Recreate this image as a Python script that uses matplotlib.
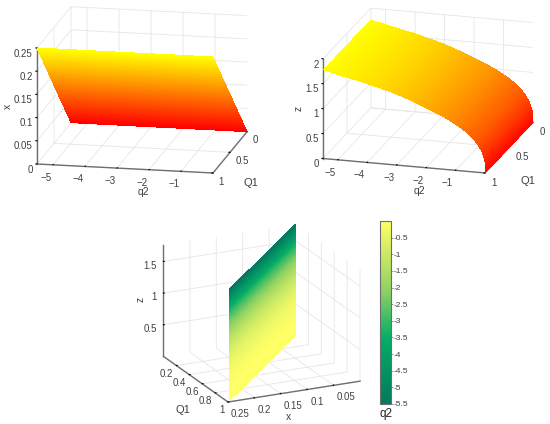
#!/usr/bin/python
# -*- coding: utf-8 -*-
import numpy as np
import matplotlib
matplotlib.use('Agg')
import matplotlib.pyplot as plt
from matplotlib.colors import LinearSegmentedColormap, Normalize
from matplotlib.cm import ScalarMappable
from mpl_toolkits.mplot3d import proj3d

plt.rcParams['font.family'] = ['Liberation Sans', 'DejaVu Sans']
plt.rcParams['font.size'] = 7

# values
q2_read = [-5.5, -5, -4, -3, -2, -1, -0.5, -0.25, -0.1, -0.02, 0]
z_read = [1.76, 1.69, 1.56, 1.40, 1.18, 0.90, 0.69, 0.52, 0.36, 0.19, 0]
Q1_read = [0, 1]
x_read = [0, 0.25]

q2_ticks = [-5, -4, -3, -2, -1]
Q1_ticks_top = [0, 0.5, 1]
Q1_ticks_bottom = [0.2, 0.4, 0.6, 0.8, 1]
x_ticks_left = [0, 0.05, 0.1, 0.15, 0.2, 0.25]
x_ticks_bottom = [0.05, 0.1, 0.15, 0.2, 0.25]
z_ticks_top = [0, 0.5, 1, 1.5, 2]
z_ticks_bottom = [0.5, 1, 1.5]
cbar_ticks = [-0.5, -1, -1.5, -2, -2.5, -3, -3.5, -4, -4.5, -5, -5.5]

bar_colors = [(0.0, '#04795f'), (0.36, '#05ad66'), (0.62, '#8fd163'), (1.0, '#ffff66')]

W, H = 550, 424
text_col = '#404040'
axis_col = '#6e6e6e'
grid_col = '#e6e6e6'

# finer mesh only for smooth shading (as matlab "shading interp")
q2_fine = np.unique(np.concatenate([np.linspace(-5.5, 0, 160), -np.geomspace(0.002, 0.5, 60)]))
z_fine = np.interp((-q2_fine) ** 0.4, ((-np.array(q2_read)) ** 0.4)[::-1], z_read[::-1])
Q1_fine = np.linspace(Q1_read[0], Q1_read[1], 120)

fig = plt.figure(figsize=(W / 100, H / 100), dpi=100)


def style(ax, pads, aligns):
    ax.patch.set_alpha(0)
    for a, pad, ha in zip((ax.xaxis, ax.yaxis, ax.zaxis), pads, aligns):
        a.set_pane_color((1, 1, 1, 0))
        a.pane.set_edgecolor(grid_col)
        a.line.set_color(axis_col)
        a.line.set_linewidth(1.0)
        a._axinfo['grid']['color'] = grid_col
        a._axinfo['grid']['linewidth'] = 0.6
        a._axinfo['tick']['color'] = axis_col
        a._axinfo['tick']['inward_factor'] = 0.0
        a._axinfo['tick']['outward_factor'] = 0.08
        a.set_tick_params(labelcolor=text_col, labelsize=7, pad=pad)
        for t in a.get_ticklabels():
            t.set_ha(ha)


def fit(ax, a3, a_px, b3, b_px):
    # moves/scales the axes so that two box corners land on given pixels
    for i in range(3):
        fig.canvas.draw()
        M = ax.get_proj()
        p = []
        for c in (a3, b3):
            u, v, _ = proj3d.proj_transform(c[0], c[1], c[2], M)
            p.append(ax.transData.transform((u, v)))
        scale = np.hypot(*(np.array(b_px) - np.array(a_px))) / np.hypot(*(p[1] - p[0]))
        pos = ax.get_position()
        w = pos.width * scale
        h = pos.height * scale
        cx = (pos.x0 + pos.width / 2) * W
        cy = (pos.y0 + pos.height / 2) * H
        ax_x = cx + (p[0][0] - cx) * scale
        ax_y = cy + (p[0][1] - cy) * scale
        dx = a_px[0] - ax_x
        dy = (H - a_px[1]) - ax_y
        ax.set_position([pos.x0 + pos.width / 2 - w / 2 + dx / W,
                         pos.y0 + pos.height / 2 - h / 2 + dy / H, w, h])


def label(px, py, s, rot=0, size=7.5):
    fig.text(px / W, 1 - py / H, s, color=text_col, fontsize=size, rotation=rot,
             ha='center', va='center')


# top left: x over q2, Q1
ax1 = fig.add_axes([0.03, 0.5, 0.45, 0.5], projection='3d', proj_type='ortho')
Q, P = np.meshgrid(q2_fine[::2], Q1_fine)
X1 = np.interp(P, Q1_read, x_read)
ax1.plot_surface(Q, P, X1, facecolors=plt.cm.autumn(X1 / 0.25), rstride=1, cstride=1,
                 linewidth=0, antialiased=False, shade=False)
ax1.set_xlim(-5.5, 0, view_margin=0)
ax1.set_ylim(1, 0, view_margin=0)
ax1.set_zlim(0, 0.25, view_margin=0)
ax1.view_init(elev=14.4, azim=-78.4)
ax1.set_box_aspect((180, 170, 120))
ax1.set_xticks(q2_ticks)
ax1.set_yticks(Q1_ticks_top)
ax1.set_yticklabels(['0', '0.5', '1'])
ax1.set_zticks(x_ticks_left)
ax1.set_zticklabels(['0', '0.05', '0.1', '0.15', '0.2', '0.25'])
ax1.zaxis.set_ticks_position('upper')
style(ax1, (-3, -5, -6), ('right', 'left', 'right'))
fit(ax1, (-5.5, 1, 0), (37, 164), (0, 1, 0), (213, 173))
label(143, 192, 'q2')
label(251, 183, 'Q1', size=8)
label(8, 106, 'x', rot=90)

# top right: z over q2, Q1
ax2 = fig.add_axes([0.52, 0.5, 0.45, 0.5], projection='3d', proj_type='ortho')
Q, P = np.meshgrid(q2_fine, Q1_fine[::3])
Z2 = np.tile(z_fine, (P.shape[0], 1))
ax2.plot_surface(Q, P, Z2, facecolors=plt.cm.autumn(Z2 / max(z_read)), rstride=1, cstride=1,
                 linewidth=0, antialiased=False, shade=False)
ax2.set_xlim(-5.5, 0, view_margin=0)
ax2.set_ylim(1, 0, view_margin=0)
ax2.set_zlim(0, 2, view_margin=0)
ax2.view_init(elev=17.9, azim=-73.8)
ax2.set_box_aspect((169, 172, 105))
ax2.set_xticks(q2_ticks)
ax2.set_yticks(Q1_ticks_top)
ax2.set_yticklabels(['0', '0.5', '1'])
ax2.set_zticks(z_ticks_top)
ax2.set_zticklabels(['0', '0.5', '1', '1.5', '2'])
ax2.zaxis.set_ticks_position('upper')
style(ax2, (-3, -4, -6), ('right', 'left', 'right'))
fit(ax2, (-5.5, 1, 0), (323, 158.5), (0, 1, 0), (485, 173))
label(419, 191, 'q2')
label(528, 181, 'Q1', size=8)
label(299, 108, 'z', rot=90)

# bottom: z over x, Q1 coloured by q2
bar_cmap = LinearSegmentedColormap.from_list('bar', bar_colors)
norm = Normalize(-5.5, 0)
ax3 = fig.add_axes([0.25, 0.0, 0.45, 0.5], projection='3d', proj_type='ortho')
Qm = np.tile(Q1_fine[::3], (len(q2_fine), 1))
Xm = np.interp(Qm, Q1_read, x_read)
Zm = np.tile(z_fine[:, None], (1, Qm.shape[1]))
Cm = np.tile(q2_fine[:, None], (1, Qm.shape[1]))
ax3.plot_surface(Xm, Qm, Zm, facecolors=bar_cmap(norm(Cm)), rstride=1, cstride=1,
                 linewidth=0, antialiased=False, shade=False)
ax3.set_xlim(0.25, 0, view_margin=0)
ax3.set_ylim(1, 0, view_margin=0)
ax3.set_zlim(0, 1.76, view_margin=0)
ax3.view_init(elev=19.5, azim=-115.3)
ax3.set_box_aspect((147, 152, 119))
ax3.set_xticks(x_ticks_bottom)
ax3.set_xticklabels(['0.05', '0.1', '0.15', '0.2', '0.25'])
ax3.set_yticks(Q1_ticks_bottom)
ax3.set_yticklabels(['0.2', '0.4', '0.6', '0.8', '1'])
ax3.set_zticks(z_ticks_bottom)
ax3.set_zticklabels(['0.5', '1', '1.5'])
style(ax3, (-4, -6, -5), ('left', 'right', 'right'))
fit(ax3, (0.25, 1, 0), (228, 402), (0, 1, 0), (360, 381))
label(183, 410, 'Q1', size=8)
label(288, 417, 'x')
label(141, 299, 'z', rot=90)

# colorbar
cax = fig.add_axes([380 / W, 1 - 404 / H, 11 / W, 183 / H])
cb = fig.colorbar(ScalarMappable(norm=norm, cmap=bar_cmap), cax=cax)
cb.set_ticks(cbar_ticks)
cb.set_ticklabels(['-0.5', '-1', '-1.5', '-2', '-2.5', '-3', '-3.5', '-4', '-4.5', '-5', '-5.5'])
cb.ax.tick_params(labelsize=6, length=1.2, width=0.5, color=axis_col, pad=1, labelcolor=text_col)
cb.outline.set_edgecolor(axis_col)
cb.outline.set_linewidth(0.8)
fig.text(386 / W, 1 - 414 / H, 'q2', fontsize=8.5, color='#222222', ha='center', va='center')

fig.savefig('out.png', dpi=100)
